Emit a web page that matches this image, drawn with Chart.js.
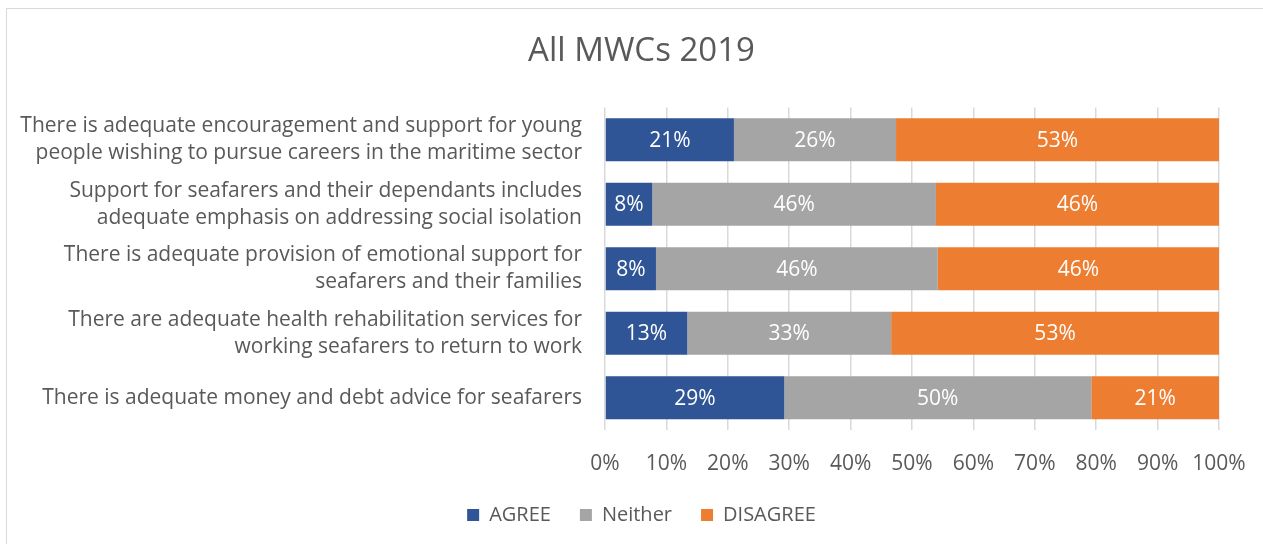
<!DOCTYPE html>
<html>
<head>
<meta charset="utf-8">
<script src="https://cdn.jsdelivr.net/npm/chart.js@4/dist/chart.umd.min.js"></script>
<style>
  html, body { margin: 0; padding: 0; background: #fff; overflow: hidden; }
  #wrap { position: relative; width: 1263px; height: 544px; }
  #frame { position: absolute; left: 6px; top: 8px; width: 1400px; height: 700px; border: 1px solid #d9d9d9; }
  canvas { position: absolute; left: 0; top: 0; }
</style>
</head>
<body>
<div id="wrap">
  <div id="frame"></div>
  <canvas id="mwc_chart" width="1263" height="544"></canvas>
</div>
<script>
const mwc_labels = [
  ["There is adequate encouragement and support for young", "people wishing to pursue careers in the maritime sector"],
  ["Support for seafarers and their dependants includes", "adequate emphasis on addressing social isolation"],
  ["There is adequate provision of emotional support for", "seafarers and their families"],
  ["There are adequate health rehabilitation services for", "working seafarers to return to work"],
  "There is adequate money and debt advice for seafarers"
];
const agree_data = [21.0, 7.7, 8.3, 13.4, 29.2];
const neither_data = [26.4, 46.2, 45.9, 33.2, 50.0];
const disagree_data = [52.6, 46.1, 45.8, 53.4, 20.8];

const text_color = '#595959';
const font_family = "'Open Sans', sans-serif";

// white % labels in the middle of each segment
const bar_labels = {
  id: 'bar_labels',
  afterDatasetsDraw(chart) {
    const ctx = chart.ctx;
    ctx.save();
    ctx.fillStyle = '#ffffff';
    ctx.font = "21px " + font_family;
    ctx.textAlign = 'center';
    ctx.textBaseline = 'middle';
    chart.data.datasets.forEach((ds, i) => {
      const meta = chart.getDatasetMeta(i);
      meta.data.forEach((bar, j) => {
        const p = bar.getProps(['x', 'y', 'base'], true);
        ctx.fillText(Math.round(ds.data[j]) + '%', (p.x + p.base) / 2, p.y + 1);
      });
    });
    ctx.restore();
  }
};

const mwc_ctx = document.getElementById("mwc_chart");

const mwc_config = {
  type: 'bar',
  data: {
    labels: mwc_labels,
    datasets: [
      { label: 'AGREE', data: agree_data, backgroundColor: '#2f5597' },
      { label: 'Neither', data: neither_data, backgroundColor: '#a5a5a5' },
      { label: 'DISAGREE', data: disagree_data, backgroundColor: '#ed7d31' }
    ]
  },
  options: {
    indexAxis: 'y',
    responsive: false,
    animation: false,
    layout: { padding: { left: 20, right: 0, top: 0, bottom: 9 } },
    datasets: { bar: { categoryPercentage: 1, barPercentage: 0.667 } },
    scales: {
      x: {
        stacked: true,
        min: 0,
        max: 100,
        ticks: {
          stepSize: 10,
          color: text_color,
          font: { family: font_family, size: 21 },
          padding: 21,
          callback: v => v + '%'
        },
        grid: { color: '#d9d9d9', lineWidth: 1.5, drawTicks: false },
        border: { display: false },
        afterFit: s => {
          s.height = 46;
          s.paddingLeft = 0;
          s.paddingRight = 0;
        }
      },
      y: {
        stacked: true,
        ticks: {
          color: text_color,
          font: { family: font_family, size: 21, lineHeight: 1.3 },
          padding: 15
        },
        grid: { display: false },
        border: { display: false },
        afterFit: s => { s.width = 585; }
      },
      // empty right-hand axis, only keeps the plot's right edge at 100%
      y_right: {
        type: 'category',
        position: 'right',
        ticks: { display: false },
        grid: { display: false },
        border: { display: false },
        afterFit: s => { s.width = 44; }
      }
    },
    plugins: {
      title: {
        display: true,
        text: 'All MWCs 2019',
        color: text_color,
        font: { family: font_family, size: 33, weight: 'normal' },
        padding: { top: 32, bottom: 36 }
      },
      legend: {
        position: 'bottom',
        labels: {
          color: text_color,
          font: { family: font_family, size: 20 },
          boxWidth: 12,
          boxHeight: 12,
          padding: 29
        }
      },
      tooltip: { enabled: false }
    }
  },
  plugins: [bar_labels]
};
const mwc_chart = new Chart(mwc_ctx, mwc_config);
</script>
</body>
</html>
